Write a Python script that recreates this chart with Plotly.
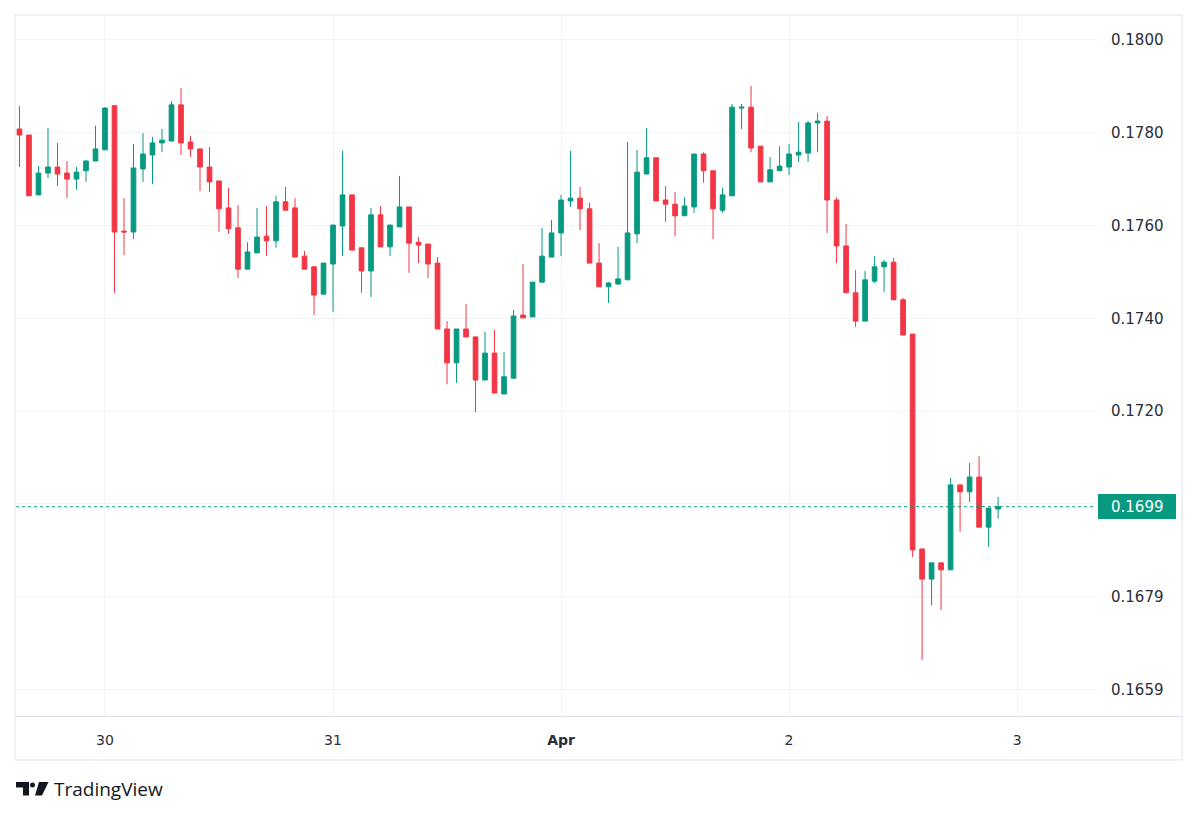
import pandas as pd
import plotly.graph_objects as go

# ---- data (hourly candles) ----
start_time = "2025-03-29 15:00"
open_ = [0.17808, 0.17795, 0.17666, 0.17713, 0.17726, 0.17713, 0.17700, 0.17718, 0.17739,
         0.17763, 0.17858, 0.17588, 0.17586, 0.17722, 0.17752, 0.17778, 0.17782, 0.17860,
         0.17780, 0.17765, 0.17726, 0.17696, 0.17638, 0.17595, 0.17506, 0.17541, 0.17577,
         0.17567, 0.17651, 0.17638, 0.17534, 0.17511, 0.17452, 0.17517, 0.17599, 0.17666,
         0.17552, 0.17502, 0.17623, 0.17554, 0.17597, 0.17640, 0.17564, 0.17560, 0.17519,
         0.17377, 0.17304, 0.17377, 0.17360, 0.17267, 0.17325, 0.17237, 0.17271, 0.17407,
         0.17403, 0.17478, 0.17532, 0.17584, 0.17653, 0.17659, 0.17636, 0.17519, 0.17468,
         0.17474, 0.17483, 0.17582, 0.17711, 0.17746, 0.17655, 0.17646, 0.17621, 0.17640,
         0.17754, 0.17718, 0.17633, 0.17664, 0.17853, 0.17855, 0.17771, 0.17694, 0.17718,
         0.17726, 0.17752, 0.17756, 0.17821, 0.17825, 0.17655, 0.17556, 0.17455, 0.17394,
         0.17480, 0.17511, 0.17521, 0.17440, 0.17366, 0.16903, 0.16838, 0.16873, 0.16858,
         0.17041, 0.17026, 0.17058, 0.16950, 0.16989]
high = [0.17858, 0.17795, 0.17728, 0.17810, 0.17778, 0.17739, 0.17726, 0.17741, 0.17815,
        0.17855, 0.17860, 0.17659, 0.17776, 0.17799, 0.17791, 0.17808, 0.17868, 0.17896,
        0.17793, 0.17765, 0.17769, 0.17696, 0.17681, 0.17644, 0.17564, 0.17638, 0.17642,
        0.17664, 0.17683, 0.17659, 0.17545, 0.17511, 0.17519, 0.17601, 0.17761, 0.17666,
        0.17552, 0.17638, 0.17642, 0.17601, 0.17707, 0.17640, 0.17575, 0.17560, 0.17532,
        0.17394, 0.17377, 0.17431, 0.17360, 0.17371, 0.17375, 0.17327, 0.17418, 0.17517,
        0.17478, 0.17595, 0.17612, 0.17666, 0.17761, 0.17683, 0.17649, 0.17562, 0.17478,
        0.17554, 0.17780, 0.17763, 0.17810, 0.17746, 0.17685, 0.17672, 0.17661, 0.17754,
        0.17758, 0.17718, 0.17681, 0.17862, 0.17862, 0.17901, 0.17771, 0.17748, 0.17771,
        0.17776, 0.17823, 0.17825, 0.17843, 0.17836, 0.17661, 0.17603, 0.17504, 0.17502,
        0.17534, 0.17526, 0.17530, 0.17444, 0.17366, 0.16903, 0.16873, 0.16873, 0.17056,
        0.17041, 0.17088, 0.17103, 0.16991, 0.17015]
low = [0.17726, 0.17664, 0.17666, 0.17702, 0.17685, 0.17659, 0.17677, 0.17694, 0.17739,
       0.17763, 0.17455, 0.17536, 0.17571, 0.17694, 0.17689, 0.17758, 0.17782, 0.17752,
       0.17748, 0.17674, 0.17672, 0.17586, 0.17582, 0.17487, 0.17506, 0.17541, 0.17534,
       0.17552, 0.17633, 0.17532, 0.17506, 0.17407, 0.17452, 0.17414, 0.17534, 0.17547,
       0.17455, 0.17446, 0.17554, 0.17534, 0.17597, 0.17498, 0.17519, 0.17487, 0.17377,
       0.17258, 0.17261, 0.17360, 0.17198, 0.17267, 0.17239, 0.17237, 0.17271, 0.17401,
       0.17403, 0.17478, 0.17532, 0.17534, 0.17640, 0.17590, 0.17519, 0.17468, 0.17433,
       0.17472, 0.17483, 0.17562, 0.17711, 0.17653, 0.17608, 0.17577, 0.17621, 0.17627,
       0.17692, 0.17571, 0.17627, 0.17664, 0.17808, 0.17758, 0.17694, 0.17694, 0.17718,
       0.17709, 0.17737, 0.17737, 0.17758, 0.17584, 0.17519, 0.17455, 0.17381, 0.17394,
       0.17476, 0.17457, 0.17440, 0.17364, 0.16886, 0.16664, 0.16782, 0.16771, 0.16858,
       0.16940, 0.17004, 0.16950, 0.16907, 0.16968]
close = [0.17795, 0.17664, 0.17713, 0.17726, 0.17711, 0.17700, 0.17715, 0.17739, 0.17765,
         0.17853, 0.17586, 0.17586, 0.17724, 0.17754, 0.17778, 0.17784, 0.17860, 0.17778,
         0.17765, 0.17726, 0.17694, 0.17636, 0.17593, 0.17506, 0.17543, 0.17575, 0.17567,
         0.17651, 0.17633, 0.17532, 0.17506, 0.17450, 0.17519, 0.17601, 0.17666, 0.17547,
         0.17502, 0.17623, 0.17554, 0.17601, 0.17640, 0.17562, 0.17558, 0.17517, 0.17377,
         0.17304, 0.17377, 0.17360, 0.17267, 0.17325, 0.17239, 0.17274, 0.17405, 0.17401,
         0.17478, 0.17534, 0.17584, 0.17655, 0.17659, 0.17636, 0.17519, 0.17468, 0.17476,
         0.17485, 0.17584, 0.17715, 0.17746, 0.17653, 0.17646, 0.17621, 0.17642, 0.17754,
         0.17718, 0.17636, 0.17666, 0.17855, 0.17855, 0.17767, 0.17694, 0.17720, 0.17728,
         0.17754, 0.17758, 0.17821, 0.17825, 0.17655, 0.17556, 0.17455, 0.17394, 0.17483,
         0.17511, 0.17521, 0.17440, 0.17364, 0.16901, 0.16838, 0.16873, 0.16858, 0.17041,
         0.17026, 0.17058, 0.16950, 0.16991, 0.16994]

x_tick_dates = ["2025-03-30", "2025-03-31", "2025-04-01", "2025-04-02", "2025-04-03"]
x_tick_labels = ["30", "31", "<b>Apr</b>", "2", "3"]
y_tick_vals = [0.1660, 0.1680, 0.1700, 0.1720, 0.1740, 0.1760, 0.1780, 0.1800]
y_tick_labels = ["0.1659", "0.1679", "", "0.1720", "0.1740", "0.1760", "0.1780", "0.1800"]
last_price_label = "0.1699"

times = pd.date_range(start=start_time, periods=len(close), freq="h")

GREEN = "#089981"
RED = "#F23645"
W, H = 1200, 817


def px(x):
    return x / W


def py(y):
    return 1 - y / H


fig = go.Figure(go.Candlestick(
    x=times, open=open_, high=high, low=low, close=close,
    increasing=dict(line=dict(color=GREEN, width=1), fillcolor=GREEN),
    decreasing=dict(line=dict(color=RED, width=1), fillcolor=RED),
    whiskerwidth=0, hoverinfo="skip",
))

font_main = "DejaVu Sans"
fig.update_layout(
    width=W, height=H,
    margin=dict(l=0, r=0, t=0, b=0),
    paper_bgcolor="white", plot_bgcolor="white",
    showlegend=False,
    xaxis=dict(
        domain=[px(16), px(1095)],
        type="date",
        range=["2025-03-29 14:38", "2025-04-03 08:12"],
        tickvals=x_tick_dates, ticktext=x_tick_labels,
        showgrid=True, gridcolor="#f2f3f6", gridwidth=1,
        zeroline=False, showline=False, ticks="",
        tickfont=dict(family=font_main, size=14, color="#2a2e39"),
        ticklabelstandoff=14,
        rangeslider=dict(visible=False),
        fixedrange=True,
    ),
    yaxis=dict(
        domain=[py(716), py(16)],
        side="right",
        range=[0.16543, 0.180515],
        tickvals=y_tick_vals, ticktext=y_tick_labels,
        showgrid=True, gridcolor="#f2f3f6", gridwidth=1,
        zeroline=False, showline=False, ticks="",
        tickfont=dict(family=font_main, size=15, color="#2a2e39"),
        ticklabelstandoff=15,
        fixedrange=True,
    ),
)

shapes = []
# outer frame
shapes.append(dict(type="rect", xref="paper", yref="paper",
                   x0=px(15), x1=px(1182), y0=py(760), y1=py(15),
                   line=dict(color="#e0e3eb", width=1), fillcolor="rgba(0,0,0,0)", layer="above"))
# time-scale separator
shapes.append(dict(type="line", xref="paper", yref="paper",
                   x0=px(15), x1=px(1182), y0=py(716.5), y1=py(716.5),
                   line=dict(color="#e0e3eb", width=1)))
# last price dotted line
shapes.append(dict(type="line", xref="paper", yref="y",
                   x0=px(16), x1=px(1095), y0=close[-1], y1=close[-1],
                   line=dict(color=GREEN, width=1, dash="dot")))
# last price label box
shapes.append(dict(type="rect", xref="paper", yref="paper",
                   x0=px(1098), x1=px(1176), y0=py(519), y1=py(494),
                   line=dict(width=0), fillcolor=GREEN, layer="above"))


# TradingView logo mark
def path(points):
    s = "M " + " L ".join(f"{px(a):.5f},{py(b):.5f}" for a, b in points) + " Z"
    return s


shapes.append(dict(type="path", xref="paper", yref="paper",
                   path=path([(16, 782), (29, 782), (29, 795.5), (23, 795.5), (23, 787.5), (16, 787.5)]),
                   fillcolor="#131722", line=dict(width=0)))
shapes.append(dict(type="circle", xref="paper", yref="paper",
                   x0=px(30), x1=px(35), y0=py(787.5), y1=py(782.5),
                   fillcolor="#131722", line=dict(width=0)))
shapes.append(dict(type="path", xref="paper", yref="paper",
                   path=path([(39, 782), (48.5, 782), (42, 795.5), (35, 795.5)]),
                   fillcolor="#131722", line=dict(width=0)))

fig.update_layout(shapes=shapes)

fig.add_annotation(xref="paper", yref="paper", x=px(1137), y=py(506.5),
                   text=last_price_label, showarrow=False,
                   font=dict(family=font_main, size=15, color="white"),
                   xanchor="center", yanchor="middle")
fig.add_annotation(xref="paper", yref="paper", x=px(52), y=py(789),
                   text="TradingView", showarrow=False,
                   font=dict(family="Open Sans", size=19, color="#131722"),
                   xanchor="left", yanchor="middle")

fig.write_html("out.html")
